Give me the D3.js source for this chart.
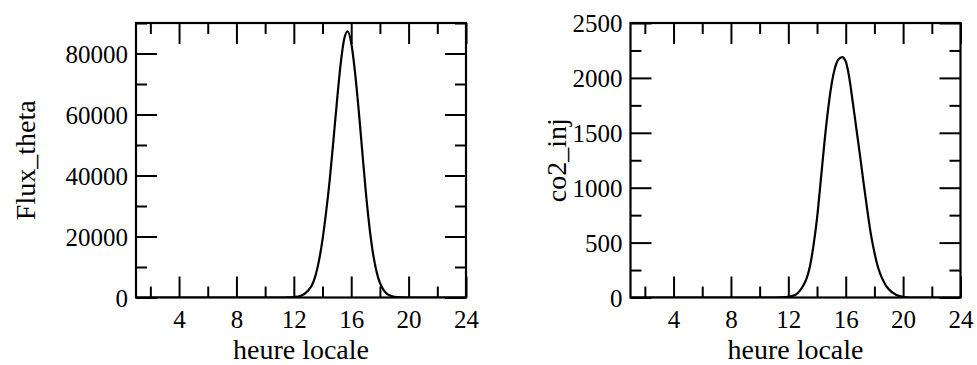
<!DOCTYPE html>
<html>
<head>
<meta charset="utf-8">
<script src="https://cdn.jsdelivr.net/npm/d3@7"></script>
<style>
  html, body { margin: 0; padding: 0; background: #fff; }
  svg { display: block; }
  text { font-family: "Liberation Serif", "Times New Roman", serif; fill: #000; }
</style>
</head>
<body>
<script>
// ---- data ----
const hours = [1, 11, 11.5, 12, 12.5, 13, 13.25, 13.5, 13.75, 14, 14.25, 14.5, 14.75, 15, 15.25, 15.5, 15.75, 16, 16.25, 16.5, 16.75, 17, 17.25, 17.5, 17.75, 18, 18.25, 18.5, 18.75, 19, 19.5, 20, 20.5, 24];
const fluxTheta = [0, 0, 10, 150, 600, 2300, 3900, 7000, 12000, 19000, 28000, 38500, 51000, 64000, 76000, 84500, 87300, 83500, 74500, 62500, 49000, 35500, 24000, 15000, 8800, 4800, 2500, 1200, 550, 230, 40, 5, 0, 0];
const co2Inj = [0, 0, 1, 6, 25, 100, 165, 280, 470, 720, 1050, 1390, 1690, 1930, 2090, 2170, 2190, 2150, 2000, 1770, 1530, 1290, 1040, 800, 580, 410, 275, 185, 120, 75, 25, 6, 0, 0];

const xMajorTicks = [4, 8, 12, 16, 20, 24];
const xMinorTicks = [2, 6, 10, 14, 18, 22];
const xTitle = "heure locale";

const fluxMajorTicks = [0, 20000, 40000, 60000, 80000];
const fluxMinorTicks = [10000, 30000, 50000, 70000, 90000];
const co2MajorTicks = [0, 500, 1000, 1500, 2000, 2500];
const co2MinorTicks = [250, 750, 1250, 1750, 2250];

const W = 977, H = 365;
const svg = d3.select("body").append("svg").attr("width", W).attr("height", H);

const TICKFONT = 25, TITLEFONT = 28;
const MAJ = 21, MIN = 11;

function panel(opts) {
  const { left, right, top, bottom, yDomain, yMajor, yMinor, values, yTitle, yTitleX } = opts;
  const x = d3.scaleLinear().domain([1, 24]).range([left, right]);
  const y = d3.scaleLinear().domain(yDomain).range([bottom, top]);
  const g = svg.append("g");
  const id = "clip" + Math.round(left);
  svg.append("defs").append("clipPath").attr("id", id)
    .append("rect").attr("x", left).attr("y", top - 2).attr("width", right - left).attr("height", bottom - top + 2);

  // curve
  const pts = hours.map((h, i) => [h, values[i]]);
  g.append("path")
    .datum(pts)
    .attr("clip-path", `url(#${id})`)
    .attr("fill", "none")
    .attr("stroke", "#000")
    .attr("stroke-width", 2.2)
    .attr("d", d3.line().x(d => x(d[0])).y(d => y(d[1])).curve(d3.curveMonotoneX));

  const styleAxis = sel => {
    sel.select(".domain").remove();
    sel.selectAll(".tick line").attr("stroke", "#000").attr("stroke-width", 2);
  };
  // bottom
  g.append("g").attr("transform", `translate(0,${bottom})`)
    .call(d3.axisBottom(x).tickValues(xMajorTicks).tickSize(-MAJ).tickFormat(d3.format("d")))
    .call(styleAxis)
    .call(s => s.selectAll(".tick text").attr("y", 30).attr("dy", 0).attr("font-size", TICKFONT));
  g.append("g").attr("transform", `translate(0,${bottom})`)
    .call(d3.axisBottom(x).tickValues(xMinorTicks).tickSize(-MIN).tickFormat(""))
    .call(styleAxis);
  // top
  g.append("g").attr("transform", `translate(0,${top})`)
    .call(d3.axisTop(x).tickValues(xMajorTicks).tickSize(-MAJ).tickFormat(""))
    .call(styleAxis);
  g.append("g").attr("transform", `translate(0,${top})`)
    .call(d3.axisTop(x).tickValues(xMinorTicks).tickSize(-MIN).tickFormat(""))
    .call(styleAxis);
  // left
  g.append("g").attr("transform", `translate(${left},0)`)
    .call(d3.axisLeft(y).tickValues(yMajor).tickSize(-MAJ).tickFormat(d3.format("d")))
    .call(styleAxis)
    .call(s => s.selectAll(".tick text").attr("x", -8).attr("dy", "0.34em").attr("font-size", TICKFONT)
      .attr("text-anchor", "end"));
  g.append("g").attr("transform", `translate(${left},0)`)
    .call(d3.axisLeft(y).tickValues(yMinor).tickSize(-MIN).tickFormat(""))
    .call(styleAxis);
  // right
  g.append("g").attr("transform", `translate(${right},0)`)
    .call(d3.axisRight(y).tickValues(yMajor).tickSize(-MAJ).tickFormat(""))
    .call(styleAxis);
  g.append("g").attr("transform", `translate(${right},0)`)
    .call(d3.axisRight(y).tickValues(yMinor).tickSize(-MIN).tickFormat(""))
    .call(styleAxis);

  // frame
  g.append("rect").attr("x", left).attr("y", top).attr("width", right - left).attr("height", bottom - top)
    .attr("fill", "none").attr("stroke", "#000").attr("stroke-width", 2.2);

  // titles
  g.append("text").attr("x", (left + right) / 2).attr("y", 359)
    .attr("text-anchor", "middle").attr("font-size", TITLEFONT).text(xTitle);
  g.append("text").attr("transform", `translate(${yTitleX},${(top + bottom) / 2}) rotate(-90)`)
    .attr("text-anchor", "middle").attr("font-size", TITLEFONT).text(yTitle);
}

panel({ left: 136, right: 466, top: 23, bottom: 297.5, yDomain: [0, 90000],
  yMajor: fluxMajorTicks, yMinor: fluxMinorTicks, values: fluxTheta, yTitle: "Flux_theta", yTitleX: 35 });
panel({ left: 630.5, right: 960.5, top: 23, bottom: 297.5, yDomain: [0, 2500],
  yMajor: co2MajorTicks, yMinor: co2MinorTicks, values: co2Inj, yTitle: "co2_inj", yTitleX: 566 });
</script>
</body>
</html>
